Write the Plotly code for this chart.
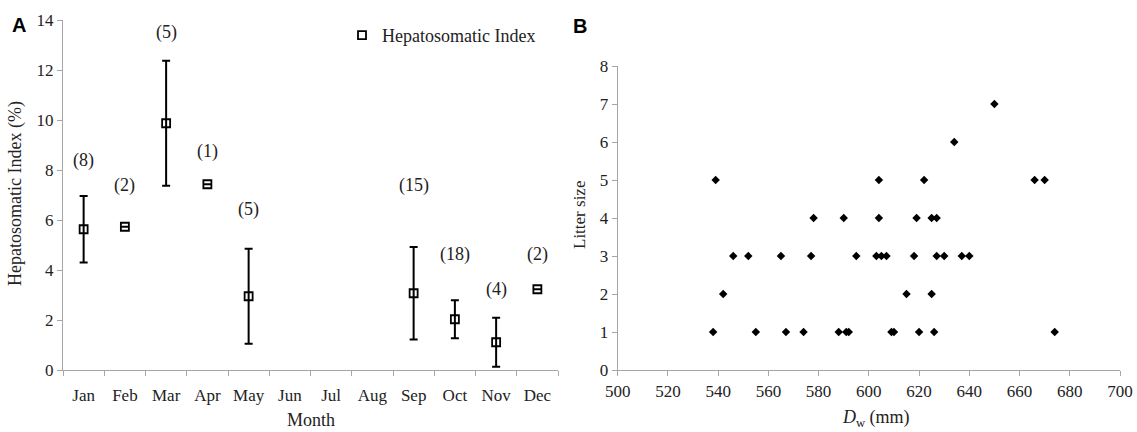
import plotly.graph_objects as go

# ---------- Panel A data ----------
months = ["Jan", "Feb", "Mar", "Apr", "May", "Jun", "Jul", "Aug", "Sep", "Oct", "Nov", "Dec"]
hsi_months = ["Jan", "Feb", "Mar", "Apr", "May", "Sep", "Oct", "Nov", "Dec"]
hsi_mean = [5.63, 5.73, 9.87, 7.43, 2.95, 3.07, 2.03, 1.11, 3.23]
hsi_err = [1.33, 0.0, 2.5, 0.0, 1.9, 1.85, 0.76, 0.98, 0.0]
n_labels = ["(8)", "(2)", "(5)", "(1)", "(5)", "(15)", "(18)", "(4)", "(2)"]
n_label_y = [8.4, 7.4, 13.5, 8.76, 6.44, 7.4, 4.63, 3.23, 4.63]

# ---------- Panel B data ----------
dw_mm = [538, 539, 542, 546, 552, 555, 565, 567, 574, 577, 578, 588, 590, 591, 592,
         595, 603, 604, 604, 605, 607, 609, 610, 615, 618, 619, 620, 622, 625, 625,
         626, 627, 627, 630, 634, 637, 640, 650, 666, 670, 674]
litter = [1, 5, 2, 3, 3, 1, 3, 1, 1, 3, 4, 1, 4, 1, 1,
          3, 3, 4, 5, 3, 3, 1, 1, 2, 3, 4, 1, 5, 2, 4,
          1, 4, 3, 3, 6, 3, 3, 7, 5, 5, 1]

SERIF = "Liberation Serif"
SANS = "Liberation Sans"
AX = "#a6a6a6"
TXT = "#222222"
W, H = 1137, 432

fig = go.Figure()

fig.add_trace(go.Scatter(
    x=hsi_months, y=hsi_mean, mode="markers", name="Hepatosomatic Index",
    marker=dict(symbol="square-open", size=8, color="black", line=dict(width=1.8, color="black")),
    error_y=dict(type="data", array=hsi_err, visible=True, color="black", thickness=2, width=4),
    xaxis="x", yaxis="y", showlegend=True,
))

fig.add_trace(go.Scatter(
    x=dw_mm, y=litter, mode="markers", name="Litter size",
    marker=dict(symbol="diamond", size=6.5, color="black"),
    xaxis="x2", yaxis="y2", showlegend=False,
))

for m, lab, yy in zip(hsi_months, n_labels, n_label_y):
    fig.add_annotation(x=m, y=yy, xref="x", yref="y", text=lab, showarrow=False,
                       xanchor="center", yanchor="middle",
                       font=dict(family=SERIF, size=18, color=TXT))


def paper_text(px, py, text, size=18, family=SERIF, angle=0, color=TXT):
    fig.add_annotation(x=px / W, y=1 - py / H, xref="paper", yref="paper", text=text,
                       textangle=angle, showarrow=False, xanchor="center", yanchor="middle",
                       font=dict(family=family, size=size, color=color))


paper_text(19, 25, "<b>A</b>", size=20, family=SANS, color="black")
paper_text(580, 26, "<b>B</b>", size=20, family=SANS, color="black")
paper_text(15, 194, "Hepatosomatic Index (%)", size=18, angle=-90)
paper_text(311, 420, "Month", size=18)
paper_text(580, 215, "Litter size", size=17, angle=-90)
paper_text(876, 418, "<i>D</i><sub>w</sub> (mm)", size=18)

tick_font = dict(family=SERIF, size=17, color=TXT)
axis_style = dict(ticks="outside", ticklen=5, tickcolor=AX, showline=True, linecolor=AX,
                  linewidth=1, showgrid=False, zeroline=False, tickfont=tick_font,
                  automargin=False)

fig.update_layout(
    width=W, height=H,
    margin=dict(l=0, r=0, t=0, b=0),
    paper_bgcolor="white", plot_bgcolor="white",
    font=tick_font,
    xaxis=dict(domain=[63 / W, 558 / W], type="category", categoryorder="array",
               categoryarray=months, range=[-0.5, 11.5], tickson="boundaries",
               ticklabelstandoff=10, anchor="y", **axis_style),
    yaxis=dict(domain=[1 - 370 / H, 1 - 20 / H], range=[0, 14], dtick=2,
               anchor="x", **axis_style),
    xaxis2=dict(domain=[617.7 / W, 1120 / W], range=[500, 700], dtick=20,
                ticklabelstandoff=1, anchor="y2", **axis_style),
    yaxis2=dict(domain=[1 - 370 / H, 1 - 66 / H], range=[0, 8], dtick=1,
                anchor="x2", **axis_style),
    legend=dict(x=342 / W, y=1 - 17 / H, xanchor="left", yanchor="top",
                bgcolor="rgba(0,0,0,0)", font=dict(family=SERIF, size=18, color=TXT),
                itemwidth=30),
)

fig.write_html("out.html", config={"displayModeBar": False},
               post_script="document.body.style.margin='0';")
